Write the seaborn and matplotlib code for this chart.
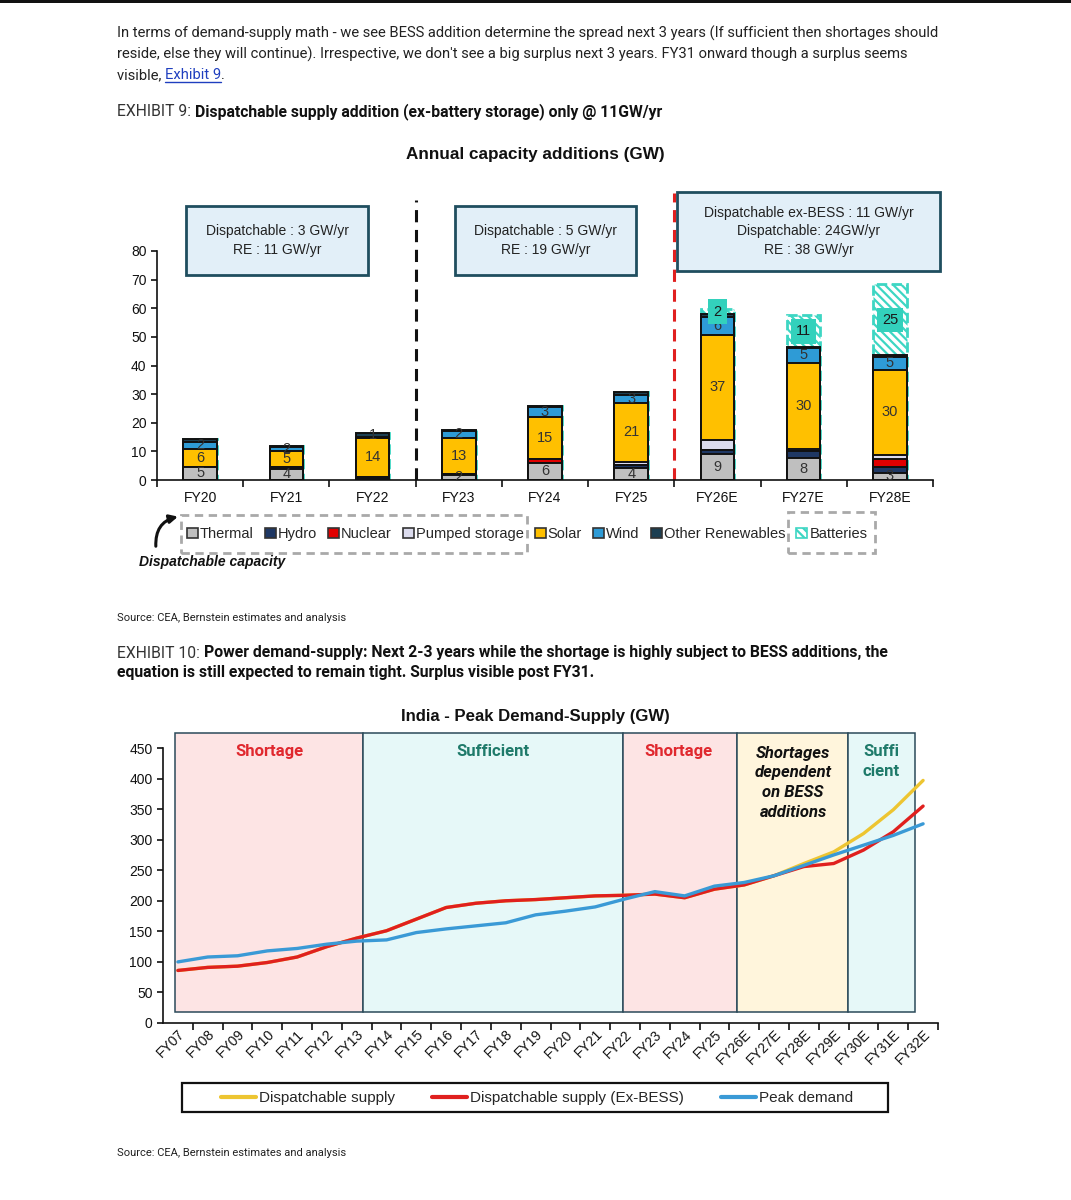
import matplotlib
matplotlib.use('Agg')
import matplotlib.pyplot as plt
import matplotlib.patches as mpatches
from matplotlib.lines import Line2D
import numpy as np
import pandas as pd
import seaborn as sns

# ---------------- DATA ----------------
bar_years = ['FY20', 'FY21', 'FY22', 'FY23', 'FY24', 'FY25', 'FY26E', 'FY27E', 'FY28E']
thermal = [4.7, 4.0, 0.3, 1.8, 6.0, 4.1, 9.0, 7.8, 2.6]
hydro = [0.0, 0.6, 0.7, 0.4, 0.0, 1.1, 1.5, 2.4, 2.1]
nuclear = [0.0, 0.0, 0.0, 0.0, 1.3, 0.0, 0.0, 0.0, 2.5]
pumped = [0.0, 0.0, 0.0, 0.0, 0.0, 1.2, 3.5, 0.8, 1.5]
solar = [6.3, 5.4, 13.8, 12.6, 14.8, 20.6, 36.7, 30.0, 29.8]
wind = [2.4, 1.5, 0.3, 2.4, 3.3, 2.7, 6.4, 5.0, 4.6]
other_re = [0.9, 0.4, 1.4, 0.3, 0.4, 1.0, 0.8, 0.3, 0.4]
batteries = [0.0, 0.0, 0.0, 0.0, 0.0, 0.0, 1.9, 11.2, 24.9]

seg_names = ['Thermal', 'Hydro', 'Nuclear', 'Pumped storage', 'Solar', 'Wind',
             'Other Renewables', 'Batteries']
seg_colors = ['#BFBFBF', '#1F3864', '#E00000', '#DCDCEE', '#FFC000', '#2E9BD6',
              '#1C3F52', '#3DD6C3']

line_years = ['FY07', 'FY08', 'FY09', 'FY10', 'FY11', 'FY12', 'FY13', 'FY14', 'FY15',
              'FY16', 'FY17', 'FY18', 'FY19', 'FY20', 'FY21', 'FY22', 'FY23', 'FY24',
              'FY25', 'FY26E', 'FY27E', 'FY28E', 'FY29E', 'FY30E', 'FY31E', 'FY32E']
dispatchable = [86, 91, 93, 99, 108, 125, 139, 151, 170, 189, 196, 200, 202, 205, 208,
                209, 211, 205, 219, 226, 241, 261, 280, 310, 349, 397]
dispatchable_ex_bess = [86, 91, 93, 99, 108, 125, 139, 151, 170, 189, 196, 200, 202, 205,
                        208, 209, 211, 205, 219, 226, 241, 256, 261, 283, 313, 355]
peak_demand = [100, 108, 110, 118, 122, 129, 134, 136, 148, 154, 159, 164, 177, 183, 190,
               203, 215, 208, 224, 230, 241, 258, 275, 291, 307, 326]
line_names = ['Dispatchable supply', 'Dispatchable supply (Ex-BESS)', 'Peak demand']
line_colors = ['#EDC531', '#E0201E', '#3A9AD6']

# ---------------- SETUP ----------------
W, H = 1071, 1200
sns.set_style('ticks')
plt.rcParams['font.family'] = ['Liberation Sans', 'DejaVu Sans']
plt.rcParams['hatch.color'] = '#3DD6C3'
plt.rcParams['hatch.linewidth'] = 1.6

fig = plt.figure(figsize=(W / 100, H / 100), dpi=100)
fig.patch.set_facecolor('white')


def fx(p):
    return p / W


def fy(p):
    return 1 - p / H


renderer = fig.canvas.get_renderer()

# top dark strip
fig.add_artist(mpatches.Rectangle((0, fy(3)), 1, 3 / H, transform=fig.transFigure,
                                  color='#111111', lw=0))

# paragraph
PC = '#222222'
PS = 10.6
fig.text(fx(117), fy(33), "In terms of demand-supply math - we see BESS addition determine the spread next 3 years (If sufficient then shortages should",
         fontsize=PS, family='Roboto', color=PC, va='center')
fig.text(fx(117), fy(54), "reside, else they will continue). Irrespective, we don't see a big surplus next 3 years. FY31 onward though a surplus seems",
         fontsize=PS, family='Roboto', color=PC, va='center')
t1 = fig.text(fx(117), fy(75), "visible, ", fontsize=PS, family='Roboto', color=PC, va='center')
b1 = t1.get_window_extent(renderer=renderer)
t2 = fig.text(b1.x1 / W, fy(75), "Exhibit 9", fontsize=PS, family='Roboto',
              color='#1F3FBF', va='center')
b2 = t2.get_window_extent(renderer=renderer)
fig.add_artist(Line2D([b2.x0 / W, b2.x1 / W], [fy(82), fy(82)], color='#1F3FBF', lw=1,
                      transform=fig.transFigure))
fig.text(b2.x1 / W, fy(75), ".", fontsize=PS, family='Roboto', color=PC, va='center')

# exhibit 9 header
HS = 11.3
h1 = fig.text(fx(117), fy(112), "EXHIBIT 9: ", fontsize=HS, family='Roboto',
              color='#333333', va='center')
hb = h1.get_window_extent(renderer=renderer)
fig.text(hb.x1 / W, fy(112), "Dispatchable supply addition (ex-battery storage) only @ 11GW/yr",
         fontsize=HS, family='Roboto', weight='bold', color='#111111', va='center')

fig.text(fx(535), fy(155), "Annual capacity additions (GW)", fontsize=12.3, weight='bold',
         ha='center', va='center', color='#111111')

# ---------------- BAR CHART ----------------
ax1 = fig.add_axes([fx(157), fy(480), (933 - 157) / W, (480 - 190) / H])
segs = [thermal, hydro, nuclear, pumped, solar, wind, other_re, batteries]
cum = np.cumsum(np.array(segs), axis=0)

for k in range(len(segs) - 1, -1, -1):
    df = pd.DataFrame({'year': bar_years, 'val': cum[k]})
    if seg_names[k] == 'Batteries':
        sns.barplot(data=df, x='year', y='val', color='#FFFFFF', saturation=1, width=0.39,
                    errorbar=None, edgecolor='#3DD6C3', linewidth=2.0, linestyle='--',
                    hatch='\\\\\\\\', ax=ax1, zorder=2)
    else:
        sns.barplot(data=df, x='year', y='val', color=seg_colors[k], saturation=1,
                    width=0.39, errorbar=None, edgecolor='#111111', linewidth=1.4,
                    ax=ax1, zorder=2)

labeled = {'Thermal', 'Solar', 'Wind', 'Other Renewables'}
for i in range(len(bar_years)):
    bottom = 0.0
    for k, name in enumerate(seg_names):
        v = segs[k][i]
        if name in labeled and v >= 1.2:
            ax1.text(i, bottom + v / 2, f"{int(round(v))}", ha='center', va='center',
                     fontsize=10.5, color='#333333', zorder=5)
        if name == 'Batteries' and v > 0:
            ax1.text(i, bottom + v / 2, f"{int(round(v))}", ha='center', va='center',
                     fontsize=10.5, color='#1a1a1a', zorder=6,
                     bbox=dict(boxstyle='square,pad=0.35', facecolor='#33D1BC',
                               edgecolor='none'))
        bottom += v

ax1.set_xlim(-0.5, 8.5)
ax1.set_ylim(0, 290 / 2.8625)
ax1.set_yticks(range(0, 81, 10))
ax1.spines['left'].set_bounds(0, 80)
ax1.spines['top'].set_visible(False)
ax1.spines['right'].set_visible(False)
for s in ['left', 'bottom']:
    ax1.spines[s].set_color('#111111')
    ax1.spines[s].set_linewidth(1.2)
ax1.set_xticks(range(len(bar_years)))
ax1.set_xticklabels(bar_years)
ax1.set_xticks(np.arange(-0.5, 8.6, 1.0), minor=True)
ax1.tick_params(axis='x', which='major', length=0, pad=8, labelsize=10, colors='#111111')
ax1.tick_params(axis='x', which='minor', length=5, width=1.2, color='#111111')
ax1.tick_params(axis='y', length=4, width=1.2, labelsize=10, colors='#111111')
ax1.set_xlabel('')
ax1.set_ylabel('')
ax1.patch.set_alpha(0)

ax1.axvline(2.5, ymin=0, ymax=97.8 / (290 / 2.8625), color='#111111', lw=2.2,
            linestyle=(0, (4, 2.5)), zorder=1)
ax1.axvline(5.5, ymin=0, ymax=0.99, color='#E02020', lw=2.2,
            linestyle=(0, (4, 2.5)), zorder=1)


def info_box(x0, y0, x1, y1, text, lsp=1.45):
    fig.add_artist(mpatches.Rectangle((fx(x0), fy(y1)), (x1 - x0) / W, (y1 - y0) / H,
                                      transform=fig.transFigure, facecolor='#E2EFF8',
                                      edgecolor='#1F4E5F', lw=2, zorder=3))
    fig.text(fx((x0 + x1) / 2), fy((y0 + y1) / 2), text, ha='center', va='center',
             fontsize=10, color='#222222', linespacing=lsp, zorder=4)


info_box(186, 206, 368, 275, "Dispatchable : 3 GW/yr\nRE : 11 GW/yr")
info_box(455, 206, 636, 275, "Dispatchable : 5 GW/yr\nRE : 19 GW/yr")
info_box(677, 192, 940, 271, "Dispatchable ex-BESS : 11 GW/yr\nDispatchable: 24GW/yr\nRE : 38 GW/yr")

# legend for bar chart
handles = []
for name, c in zip(seg_names, seg_colors):
    if name == 'Batteries':
        handles.append(mpatches.Patch(facecolor='white', edgecolor='#3DD6C3',
                                      hatch='\\\\\\\\', lw=1.2))
    else:
        handles.append(mpatches.Patch(facecolor=c, edgecolor='#333333', lw=1.2))
leg1 = fig.legend(handles, seg_names, loc='center', bbox_to_anchor=(fx(527), fy(534)),
                  ncol=8, frameon=False, fontsize=10.5, handlelength=0.75,
                  handleheight=0.75, handletextpad=0.15, columnspacing=0.75)
fig.canvas.draw()
texts = leg1.get_texts()
hs = leg1.legend_handles
b_first = hs[0].get_window_extent(renderer=renderer)
b_pump = texts[3].get_window_extent(renderer=renderer)
b_bat_h = hs[7].get_window_extent(renderer=renderer)
b_bat_t = texts[7].get_window_extent(renderer=renderer)
gx0 = b_first.x0 - 6
gx1 = b_pump.x1 + 3
fig.add_artist(mpatches.Rectangle((gx0 / W, fy(553)), (gx1 - gx0) / W, 38 / H,
                                  transform=fig.transFigure, facecolor='none',
                                  edgecolor='#A9A9A9', lw=2, linestyle=(0, (3, 2))))
bx0 = b_bat_h.x0 - 8
bx1 = b_bat_t.x1 + 8
fig.add_artist(mpatches.Rectangle((bx0 / W, fy(553)), (bx1 - bx0) / W, 41 / H,
                                  transform=fig.transFigure, facecolor='none',
                                  edgecolor='#A9A9A9', lw=2, linestyle=(0, (3, 2))))

arrow = mpatches.FancyArrowPatch((fx(156), fy(549)), (gx0 / W, fy(516)),
                                 transform=fig.transFigure,
                                 connectionstyle='arc3,rad=-0.45',
                                 arrowstyle='-|>', mutation_scale=12, lw=2.2,
                                 color='#111111')
fig.add_artist(arrow)
fig.text(fx(139), fy(562), "Dispatchable capacity", fontsize=10, weight='bold',
         style='italic', va='center', ha='left', color='#111111')

fig.text(fx(117), fy(618), "Source: CEA, Bernstein estimates and analysis", fontsize=8,
         family='Roboto', color='#222222', va='center')

# exhibit 10 header
h2 = fig.text(fx(117), fy(653), "EXHIBIT 10: ", fontsize=HS, family='Roboto',
              color='#333333', va='center')
hb2 = h2.get_window_extent(renderer=renderer)
fig.text(hb2.x1 / W, fy(653),
         "Power demand-supply: Next 2-3 years while the shortage is highly subject to BESS additions, the",
         fontsize=HS, family='Roboto', weight='bold', color='#111111', va='center')
fig.text(fx(117), fy(673), "equation is still expected to remain tight. Surplus visible post FY31.",
         fontsize=HS, family='Roboto', weight='bold', color='#111111', va='center')

fig.text(fx(535), fy(716), "India - Peak Demand-Supply (GW)", fontsize=12.1, weight='bold',
         ha='center', va='center', color='#111111')

# ---------------- LINE CHART ----------------
ax2 = fig.add_axes([fx(163), fy(1023), 775 / W, (1023 - 729.7) / H])
regions = [(-0.1, 6.2, '#FDE4E4'), (6.2, 14.93, '#E6F8F8'), (14.93, 18.76, '#FDE4E4'),
           (18.76, 22.48, '#FFF5DC'), (22.48, 24.73, '#E6F8F8')]
for x0, x1, c in regions:
    ax2.add_patch(mpatches.Rectangle((x0, 18), x1 - x0, 457, facecolor=c,
                                     edgecolor='#2B4A5A', lw=1.1, zorder=0))

idx = np.arange(len(line_years))
df_lines = pd.DataFrame({
    'idx': np.concatenate([idx, idx, idx]),
    'value': np.concatenate([dispatchable, dispatchable_ex_bess, peak_demand]),
    'series': np.repeat(line_names, len(line_years)),
})
sns.lineplot(data=df_lines, x='idx', y='value', hue='series', hue_order=line_names,
             palette=dict(zip(line_names, line_colors)), linewidth=2.4, sort=False,
             legend=False, ax=ax2, zorder=3)

tf = dict(fontsize=12, weight='bold', family='Roboto', ha='center', va='center')
ax2.text(3.06, 445, "Shortage", color='#E0282E', **tf)
ax2.text(10.58, 445, "Sufficient", color='#1E7A6A', **tf)
ax2.text(16.8, 445, "Shortage", color='#E0282E', **tf)
ax2.text(20.64, 393, "Shortages\ndependent\non BESS\nadditions", color='#111111',
         style='italic', linespacing=1.4, **tf)
ax2.text(23.6, 428, "Suffi\ncient", color='#1E7A6A', linespacing=1.4, **tf)

ax2.set_xlim(-0.5, 25.5)
ax2.set_ylim(0, 480)
ax2.set_yticks(range(0, 451, 50))
ax2.spines['left'].set_bounds(0, 450)
ax2.spines['top'].set_visible(False)
ax2.spines['right'].set_visible(False)
for s in ['left', 'bottom']:
    ax2.spines[s].set_color('#111111')
    ax2.spines[s].set_linewidth(1.2)
ax2.set_xticks(idx)
ax2.set_xticklabels(line_years, rotation=45, ha='right', rotation_mode='anchor')
ax2.set_xticks(np.arange(0.5, 25.6, 1.0), minor=True)
ax2.tick_params(axis='x', which='major', length=0, pad=3, labelsize=10, colors='#111111')
ax2.tick_params(axis='x', which='minor', length=5, width=1.2, color='#111111')
ax2.tick_params(axis='y', length=4, width=1.2, labelsize=10, colors='#111111')
ax2.set_xlabel('')
ax2.set_ylabel('')
ax2.patch.set_alpha(0)

lhandles = [Line2D([0], [0], color=c, lw=3) for c in line_colors]
fig.legend(lhandles, line_names, loc='center', bbox_to_anchor=(fx(537), fy(1098)), ncol=3,
           frameon=False, fontsize=11, handlelength=2.3, handletextpad=0.2,
           columnspacing=2.4)
fig.add_artist(mpatches.Rectangle((fx(182), fy(1112)), (888 - 182) / W, 29 / H,
                                  transform=fig.transFigure, facecolor='none',
                                  edgecolor='#111111', lw=1.6))

fig.text(fx(117), fy(1153), "Source: CEA, Bernstein estimates and analysis", fontsize=8,
         family='Roboto', color='#222222', va='center')

fig.savefig('out.png', dpi=100, facecolor='white')
